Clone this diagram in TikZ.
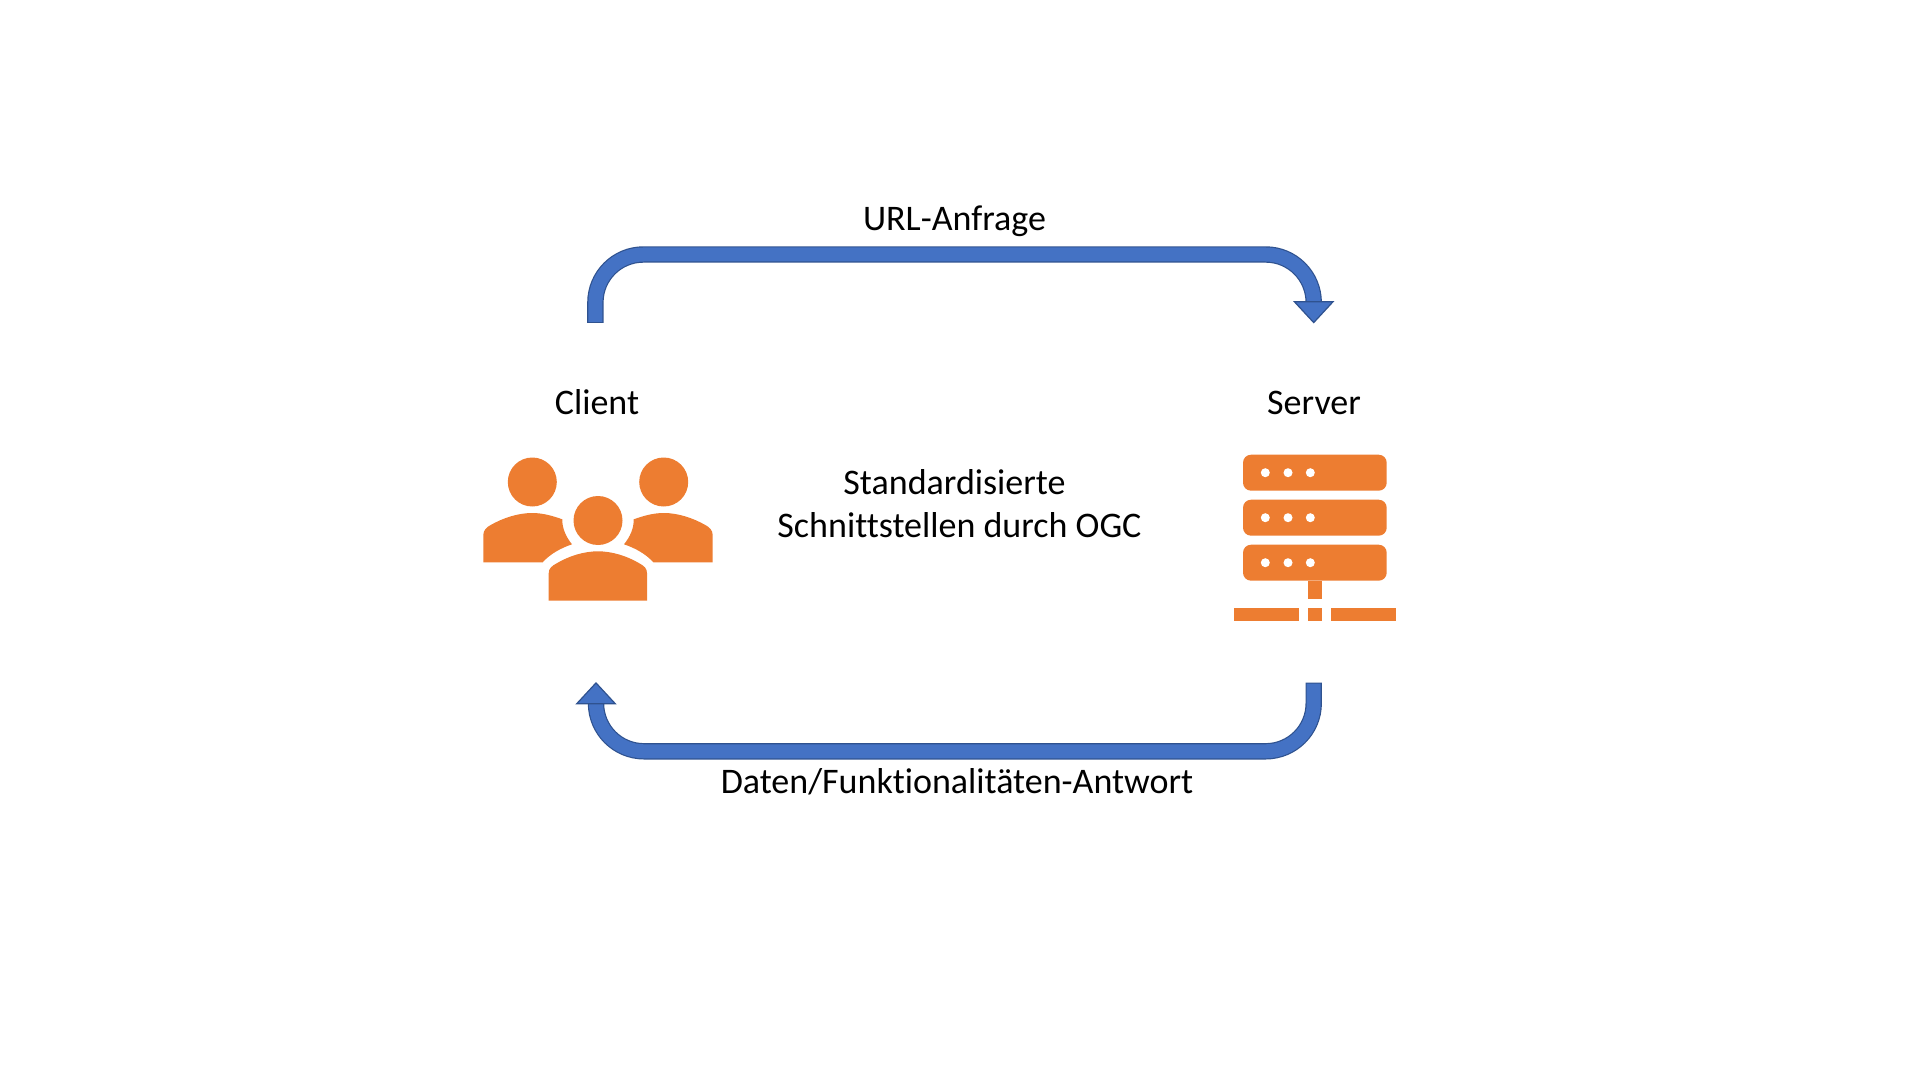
\documentclass[tikz,border=0pt]{standalone}
\usepackage{fontspec}
\setmainfont[Ligatures=NoCommon]{Carlito}
\usetikzlibrary{arrows.meta}
\definecolor{iconorange}{HTML}{ED7D31}
\definecolor{flowblue}{HTML}{4472C4}
\definecolor{flowedge}{HTML}{2F528F}
\begin{document}
\begin{tikzpicture}[x=0.5pt, y=-0.5pt,
  main/.style = {font=\fontsize{18}{22}\selectfont, inner sep=0pt},
  icon/.style = {fill=iconorange},
  dot/.style = {fill=white},
  flow/.style = {preaction={draw=flowedge, line width=8.2pt, arrows=-, shorten >=10pt, shorten <=0pt},
    draw=flowblue, line width=7pt, rounded corners=24pt, shorten <=0.6pt,
    -{Triangle[length=11.2pt, width=20.6pt, line width=0.6pt, fill=flowblue, color=flowedge]}}]
\useasboundingbox (0,0) rectangle (1920,1080);

\node[main] (client) at (597,402) {Client};
\node[main] (server) at (1314,403) {Server};
\node[main] (request) at (954.5,221.5) {URL-Anfrage};
\node[main] (response) at (957,782) {Daten/Funktionalitäten-Antwort};
\node[main] (ogc1) at (954.5,482) {Standardisierte};
\node[main] (ogc2) at (959.5,525) {Schnittstellen durch OGC};

\coordinate (reqfrom) at (595.4,323);
\coordinate (reqto) at (1313.7,323.5);
\coordinate (respfrom) at (1313.7,682.5);
\coordinate (respto) at (596,682);
\draw[flow] (reqfrom) -- ++(0,-68.5) -| (reqto);
\draw[flow] (respfrom) -- ++(0,68.8) -| (respto);

\foreach \s in {1,-1} {
  \begin{scope}[shift={(598,0)}, xscale=\s]
    \fill[icon] (-65.7,482) circle (12.25pt);
    \fill[icon] (-114.7,562.3) -- (-114.7,535) .. controls (-114.7,530) and (-111,527) .. (-107.3,525)
      .. controls (-95,518) and (-80,513) .. (-65.7,513)
      .. controls (-55,513) and (-45,516) .. (-35.7,519.3)
      .. controls (-36,528) and (-32,537) .. (-26,544.3)
      .. controls (-37,548) and (-48,554) .. (-55.3,562.3) -- cycle;
  \end{scope}
}
\fill[icon] (598,520.5) circle (12.25pt);
\fill[icon] (548.7,600.7) -- (548.7,573.3) .. controls (548.7,568) and (552,566) .. (556.7,563.3)
  .. controls (569,556) and (584,551.3) .. (598,551.3)
  .. controls (612,551.3) and (627,556) .. (639.3,563.3)
  .. controls (644,566) and (647,568) .. (647,573.3) -- (647,600.7) -- cycle;

\foreach \y in {454.7,499.7,544.7} {
  \fill[icon, rounded corners=4pt] (1243,\y) rectangle (1386.7,\y+36);
  \foreach \x in {1265.3,1288,1310.3}
    \fill[dot] (\x,\y+18) circle (2.25pt);
}
\fill[icon] (1308.3,580.7) rectangle (1321.7,598.7);
\fill[icon] (1234,607.7) rectangle (1299,621);
\fill[icon] (1308.3,607.7) rectangle (1321.7,621);
\fill[icon] (1330.7,607.7) rectangle (1396,621);
\end{tikzpicture}
\end{document}
